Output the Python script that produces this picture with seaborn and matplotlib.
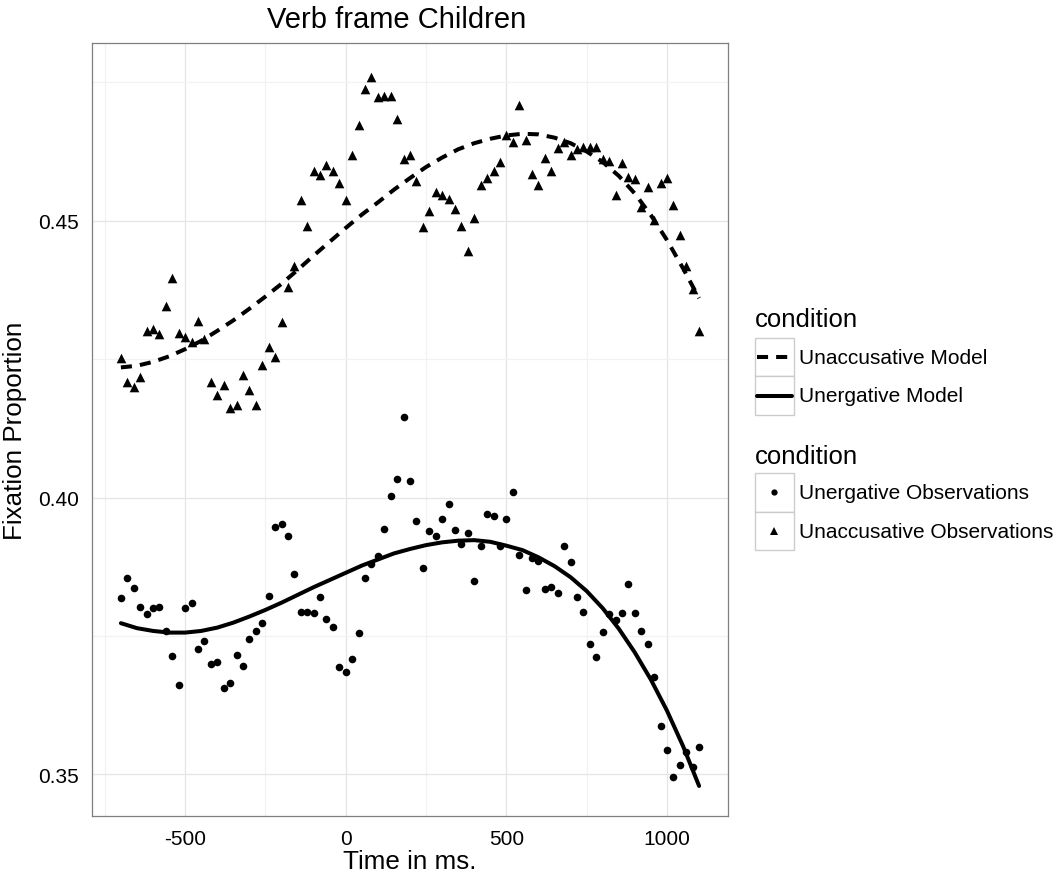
import matplotlib
matplotlib.use("Agg")
import matplotlib.pyplot as plt
from matplotlib.patches import Rectangle
from matplotlib.lines import Line2D
from matplotlib.ticker import FixedLocator
import pandas as pd
import seaborn as sns

# time bins (ms), 20 ms apart
time_ms = [
    -700, -680, -660, -640, -620, -600, -580, -560, -540, -520,
    -500, -480, -460, -440, -420, -400, -380, -360, -340, -320,
    -300, -280, -260, -240, -220, -200, -180, -160, -140, -120,
    -100, -80, -60, -40, -20, 0, 20, 40, 60, 80,
    100, 120, 140, 160, 180, 200, 220, 240, 260, 280,
    300, 320, 340, 360, 380, 400, 420, 440, 460, 480,
    500, 520, 540, 560, 580, 600, 620, 640, 660, 680,
    700, 720, 740, 760, 780, 800, 820, 840, 860, 880,
    900, 920, 940, 960, 980, 1000, 1020, 1040, 1060, 1080,
    1100,
]

unergative_obs = [
    0.3818, 0.3854, 0.3836, 0.3803, 0.3790, 0.3800, 0.3803, 0.3759, 0.3714, 0.3662,
    0.3801, 0.3809, 0.3727, 0.3741, 0.3700, 0.3702, 0.3656, 0.3665, 0.3715, 0.3696,
    0.3745, 0.3759, 0.3774, 0.3822, 0.3946, 0.3952, 0.3930, 0.3862, 0.3793, 0.3794,
    0.3791, 0.3821, 0.3780, 0.3766, 0.3693, 0.3685, 0.3708, 0.3755, 0.3854, 0.3879,
    0.3895, 0.3944, 0.4002, 0.4034, 0.4146, 0.4029, 0.3958, 0.3873, 0.3939, 0.3931,
    0.3962, 0.3989, 0.3942, 0.3916, 0.3936, 0.3850, 0.3913, 0.3971, 0.3967, 0.3913,
    0.3962, 0.4010, 0.3896, 0.3833, 0.3891, 0.3886, 0.3834, 0.3838, 0.3827, 0.3912,
    0.3884, 0.3821, 0.3794, 0.3735, 0.3712, 0.3757, 0.3789, 0.3779, 0.3792, 0.3844,
    0.3791, 0.3759, 0.3735, 0.3676, 0.3587, 0.3544, 0.3495, 0.3516, 0.3540, 0.3514,
    0.3550,
]

unaccusative_obs = [
    0.4252, 0.4208, 0.4199, 0.4217, 0.4300, 0.4305, 0.4296, 0.4346, 0.4397, 0.4298,
    0.4290, 0.4281, 0.4319, 0.4287, 0.4208, 0.4186, 0.4204, 0.4161, 0.4168, 0.4222,
    0.4194, 0.4168, 0.4239, 0.4272, 0.4254, 0.4317, 0.4380, 0.4419, 0.4538, 0.4490,
    0.4590, 0.4583, 0.4600, 0.4589, 0.4569, 0.4537, 0.4618, 0.4673, 0.4738, 0.4760,
    0.4723, 0.4725, 0.4725, 0.4684, 0.4611, 0.4618, 0.4571, 0.4489, 0.4518, 0.4552,
    0.4546, 0.4540, 0.4522, 0.4490, 0.4445, 0.4504, 0.4565, 0.4577, 0.4589, 0.4606,
    0.4655, 0.4643, 0.4709, 0.4645, 0.4584, 0.4565, 0.4613, 0.4589, 0.4631, 0.4642,
    0.4619, 0.4629, 0.4633, 0.4633, 0.4633, 0.4611, 0.4607, 0.4546, 0.4605, 0.4579,
    0.4576, 0.4524, 0.4561, 0.4501, 0.4568, 0.4577, 0.4528, 0.4475, 0.4419, 0.4377,
    0.4301,
]

# model curves, every 50 ms
model_time = [
    -700, -650, -600, -550, -500, -450, -400, -350, -300, -250,
    -200, -150, -100, -50, 0, 50, 100, 150, 200, 250,
    300, 350, 400, 450, 500, 550, 600, 650, 700, 750,
    800, 850, 900, 950, 1000, 1050, 1100,
]

unaccusative_model = [
    0.4235, 0.4238, 0.4245, 0.4255, 0.4268, 0.4283, 0.4301, 0.4320, 0.4341, 0.4363,
    0.4386, 0.4411, 0.4437, 0.4462, 0.4487, 0.4511, 0.4533, 0.4556, 0.4577, 0.4597,
    0.4614, 0.4629, 0.4640, 0.4648, 0.4654, 0.4657, 0.4656, 0.4650, 0.4640, 0.4625,
    0.4606, 0.4581, 0.4549, 0.4510, 0.4465, 0.4414, 0.4360,
]

unergative_model = [
    0.3773, 0.3764, 0.3759, 0.3756, 0.3756, 0.3759, 0.3765, 0.3774, 0.3785, 0.3797,
    0.3810, 0.3824, 0.3838, 0.3851, 0.3864, 0.3877, 0.3888, 0.3899, 0.3907, 0.3914,
    0.3919, 0.3922, 0.3923, 0.3920, 0.3913, 0.3905, 0.3892, 0.3876, 0.3856, 0.3831,
    0.3800, 0.3763, 0.3720, 0.3671, 0.3615, 0.3551, 0.3479,
]

model_labels = ["Unaccusative Model", "Unergative Model"]
obs_labels = ["Unergative Observations", "Unaccusative Observations"]

unerg = pd.DataFrame({"time": time_ms, "prop": unergative_obs})
unacc = pd.DataFrame({"time": time_ms, "prop": unaccusative_obs})
models = pd.DataFrame({"time": model_time, "unacc": unaccusative_model,
                       "unerg": unergative_model})

W, H = 1056, 879
sns.set_theme(style="white")
plt.rcParams["font.family"] = ["Liberation Sans", "DejaVu Sans"]
plt.rcParams["text.color"] = "black"
plt.rcParams["axes.labelcolor"] = "black"

fig = plt.figure(figsize=(W / 100, H / 100), dpi=100)
ax = fig.add_axes([92 / W, 1 - 817 / H, (728 - 92) / W, (817 - 44) / H])

dash = (0, (2.75, 2))
sns.scatterplot(data=unerg, x="time", y="prop", marker="o", s=30, color="black",
                linewidth=0, ax=ax, zorder=3)
sns.scatterplot(data=unacc, x="time", y="prop", marker="^", s=48, color="black",
                linewidth=0, ax=ax, zorder=3)
sns.lineplot(data=models, x="time", y="unacc", color="black", lw=2.9,
             linestyle=dash, ax=ax, zorder=4)
sns.lineplot(data=models, x="time", y="unerg", color="black", lw=2.9,
             ax=ax, zorder=4)

ax.set_xlim(-790, 1190)
ax.set_ylim(0.34247, 0.4821)
ax.set_xticks([-500, 0, 500, 1000])
ax.set_xticklabels(["-500", "0", "500", "1000"])
ax.xaxis.set_minor_locator(FixedLocator([-750, -250, 250, 750]))
ax.set_yticks([0.35, 0.40, 0.45])
ax.set_yticklabels(["0.35", "0.40", "0.45"])
ax.yaxis.set_minor_locator(FixedLocator([0.375, 0.425, 0.475]))

ax.grid(which="major", color="#E5E5E5", lw=0.9)
ax.grid(which="minor", color="#F2F2F2", lw=0.9)
ax.set_axisbelow(True)
ax.tick_params(which="major", length=4.3, width=0.9, color="#333333",
               labelsize=15, labelcolor="black", pad=5)
ax.tick_params(which="minor", length=0)
for sp in ax.spines.values():
    sp.set_color("#7F7F7F")
    sp.set_linewidth(0.9)

fig.text(397 / W, 1 - 28.5 / H, "Verb frame Children", fontsize=21,
         ha="center", va="baseline")
ax.set_xlabel("Time in ms.", fontsize=18.7, labelpad=1)
ax.set_ylabel("Fixation Proportion", fontsize=18.7, labelpad=8)

# ggplot-like legends on the right, drawn in pixel space
leg = fig.add_axes([0, 0, 1, 1])
leg.set_xlim(0, W)
leg.set_ylim(H, 0)
leg.axis("off")

key_x, key = 755, 38.7


def key_block(title, y_title, y_top, labels, draw):
    leg.text(key_x, y_title, title, fontsize=18.5, ha="left", va="center")
    for i, lab in enumerate(labels):
        y0 = y_top + i * key
        leg.add_patch(Rectangle((key_x, y0), key, key, facecolor="white",
                                edgecolor="#CCCCCC", lw=1.0))
        draw(i, y0 + key / 2)
        leg.text(key_x + key + 5, y0 + key / 2, lab, fontsize=15,
                 ha="left", va="center")


def draw_model(i, yc):
    ls = dash if i == 0 else "-"
    leg.add_line(Line2D([key_x + 2, key_x + key - 2], [yc, yc], color="black",
                        lw=2.9, ls=ls))


def draw_obs(i, yc):
    mk = "o" if i == 0 else "^"
    leg.plot([key_x + key / 2], [yc], marker=mk, ms=4.5 if i == 0 else 5.5,
             color="black", mew=0, ls="none")


key_block("condition", 320, 338.7, model_labels, draw_model)
key_block("condition", 457, 474, obs_labels, draw_obs)

fig.savefig("out.png", dpi=100)
